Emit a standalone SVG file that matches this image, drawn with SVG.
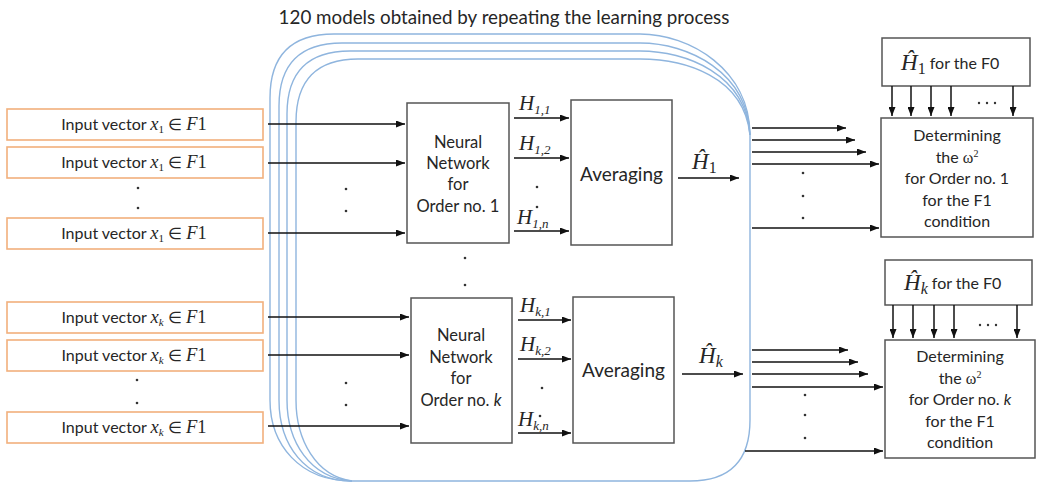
<svg xmlns="http://www.w3.org/2000/svg" width="1037" height="483" viewBox="0 0 1037 483">
  <defs>
    <marker id="arrow" viewBox="0 0 9 7" refX="9" refY="3.5" markerWidth="9" markerHeight="7" markerUnits="userSpaceOnUse" orient="auto">
      <path d="M0,0 L9,3.5 L0,7 z" fill="#111"/>
    </marker>
    <style>
      .bg { fill: #ffffff; }
      .stack { fill: none; stroke: #8fb5de; stroke-width: 1.4; }
      .inbox { fill: #ffffff; stroke: #f2b07c; stroke-width: 1.6; }
      .box { fill: #ffffff; stroke: #555555; stroke-width: 1.5; }
      .conn { fill: none; stroke: #111; stroke-width: 1.5; marker-end: url(#arrow); }
      .sans { font-family: Lato, "Open Sans", "Liberation Sans", sans-serif; fill: #262626; }
      .math { font-family: "Liberation Serif", "DejaVu Serif", serif; font-style: italic; fill: #262626; }
      .up { font-family: "Liberation Serif", "DejaVu Serif", serif; fill: #262626; }
      .dot { fill: #333; }
    </style>
  </defs>

  <rect class="bg" x="0" y="0" width="1037" height="483"/>

  <text class="sans" x="504" y="24" font-size="18.8" text-anchor="middle">120 models obtained by repeating the learning process</text>

  <!-- stacked model frames -->
  <g id="model-stack">
    <path class="stack" d="M270,400 L270,98 Q270,34 334,34 L640,34 C690,34 750,70 750,135 L750,420 Q750,481 690,481 L352,481 C300,481 270,445 270,400"/>
    <path class="stack" d="M279,400 L279,106 Q279,43 342,43 L640,43 C688,43 748,72 750,135"/>
    <path class="stack" d="M287,400 L287,114 Q287,51 350,51 L640,51 C686,51 746,74 750,135"/>
    <path class="stack" d="M296,400 L296,122 Q296,59 358,59 L640,59 C684,59 744,76 750,135"/>
    <path class="stack" d="M279,400 C279,445 305,481 352,481"/>
    <path class="stack" d="M287,400 C287,442 310,478 352,481"/>
    <path class="stack" d="M296,400 C296,440 316,476 352,481"/>
  </g>

  <!-- input vectors, order 1 -->
  <g id="in-1a"><rect class="inbox" x="7" y="109" width="256" height="31"/>
    <text class="sans" x="134" y="130" font-size="16" text-anchor="middle">Input vector <tspan class="math" font-size="18.5">x</tspan><tspan class="up" font-size="11" dy="3">1</tspan><tspan dy="-3"> ∈ </tspan><tspan class="math" font-size="18.5">F</tspan><tspan class="up" font-size="18.5">1</tspan></text></g>
  <g id="in-1b"><rect class="inbox" x="7" y="147" width="256" height="31"/>
    <text class="sans" x="134" y="168" font-size="16" text-anchor="middle">Input vector <tspan class="math" font-size="18.5">x</tspan><tspan class="up" font-size="11" dy="3">1</tspan><tspan dy="-3"> ∈ </tspan><tspan class="math" font-size="18.5">F</tspan><tspan class="up" font-size="18.5">1</tspan></text></g>
  <g id="in-1n"><rect class="inbox" x="7" y="218" width="256" height="31"/>
    <text class="sans" x="134" y="239" font-size="16" text-anchor="middle">Input vector <tspan class="math" font-size="18.5">x</tspan><tspan class="up" font-size="11" dy="3">1</tspan><tspan dy="-3"> ∈ </tspan><tspan class="math" font-size="18.5">F</tspan><tspan class="up" font-size="18.5">1</tspan></text></g>

  <!-- input vectors, order k -->
  <g id="in-ka"><rect class="inbox" x="7" y="302" width="256" height="31"/>
    <text class="sans" x="134" y="323" font-size="16" text-anchor="middle">Input vector <tspan class="math" font-size="18.5">x</tspan><tspan class="math" font-size="11" dy="3">k</tspan><tspan dy="-3"> ∈ </tspan><tspan class="math" font-size="18.5">F</tspan><tspan class="up" font-size="18.5">1</tspan></text></g>
  <g id="in-kb"><rect class="inbox" x="7" y="340" width="256" height="31"/>
    <text class="sans" x="134" y="361" font-size="16" text-anchor="middle">Input vector <tspan class="math" font-size="18.5">x</tspan><tspan class="math" font-size="11" dy="3">k</tspan><tspan dy="-3"> ∈ </tspan><tspan class="math" font-size="18.5">F</tspan><tspan class="up" font-size="18.5">1</tspan></text></g>
  <g id="in-kn"><rect class="inbox" x="7" y="412" width="256" height="31"/>
    <text class="sans" x="134" y="433" font-size="16" text-anchor="middle">Input vector <tspan class="math" font-size="18.5">x</tspan><tspan class="math" font-size="11" dy="3">k</tspan><tspan dy="-3"> ∈ </tspan><tspan class="math" font-size="18.5">F</tspan><tspan class="up" font-size="18.5">1</tspan></text></g>

  <!-- neural networks -->
  <g id="nn-1"><rect class="box" x="407" y="103" width="102" height="140"/>
    <text class="sans" font-size="16.5" text-anchor="middle"><tspan x="458" y="148">Neural</tspan><tspan x="458" y="169">Network</tspan><tspan x="458" y="190">for</tspan><tspan x="458" y="212">Order no. 1</tspan></text></g>
  <g id="nn-k"><rect class="box" x="411" y="298" width="101" height="145"/>
    <text class="sans" font-size="16.5" text-anchor="middle"><tspan x="461" y="341">Neural</tspan><tspan x="461" y="363">Network</tspan><tspan x="461" y="384">for</tspan><tspan x="461" y="406">Order no. <tspan font-style="italic">k</tspan></tspan></text></g>

  <!-- averaging -->
  <g id="avg-1"><rect class="box" x="571" y="100" width="101" height="145"/>
    <text class="sans" x="621.5" y="181" font-size="19" text-anchor="middle">Averaging</text></g>
  <g id="avg-k"><rect class="box" x="573" y="297" width="101" height="146"/>
    <text class="sans" x="623.5" y="377" font-size="19" text-anchor="middle">Averaging</text></g>

  <!-- F0 reference boxes -->
  <g id="ref-1"><rect class="box" x="882" y="38" width="148" height="48"/>
    <text x="901" y="70"><tspan class="math" font-size="23">Ĥ</tspan><tspan class="up" font-size="16" dy="4">1</tspan><tspan class="sans" font-size="16" dy="-5"> for the F0</tspan></text></g>
  <g id="ref-k"><rect class="box" x="885" y="260" width="147" height="45"/>
    <text x="904" y="290"><tspan class="math" font-size="23">Ĥ</tspan><tspan class="math" font-size="16" dy="4">k</tspan><tspan class="sans" font-size="16" dy="-5"> for the F0</tspan></text></g>

  <!-- omega determination -->
  <g id="omega-1"><rect class="box" x="881" y="118" width="152" height="119"/>
    <text class="sans" font-size="16" text-anchor="middle"><tspan x="957" y="141">Determining</tspan><tspan x="957" y="163">the <tspan class="up" font-size="16">ω</tspan><tspan class="up" font-size="10" dy="-6">2</tspan></tspan><tspan x="957" y="184">for Order no. 1</tspan><tspan x="957" y="206">for the F1</tspan><tspan x="957" y="227">condition</tspan></text></g>
  <g id="omega-k"><rect class="box" x="885" y="340" width="150" height="118"/>
    <text class="sans" font-size="16" text-anchor="middle"><tspan x="960" y="362">Determining</tspan><tspan x="960" y="384">the <tspan class="up" font-size="16">ω</tspan><tspan class="up" font-size="10" dy="-6">2</tspan></tspan><tspan x="960" y="405">for Order no. <tspan font-style="italic">k</tspan></tspan><tspan x="960" y="427">for the F1</tspan><tspan x="960" y="448">condition</tspan></text></g>

  <!-- labels on outputs -->
  <g id="labels">
    <text x="519" y="110"><tspan class="math" font-size="21">H</tspan><tspan class="math" font-size="13" dy="4">1,1</tspan></text>
    <text x="519" y="150"><tspan class="math" font-size="21">H</tspan><tspan class="math" font-size="13" dy="4">1,2</tspan></text>
    <text x="517" y="224"><tspan class="math" font-size="21">H</tspan><tspan class="math" font-size="13" dy="4">1,n</tspan></text>
    <text x="520" y="312"><tspan class="math" font-size="21">H</tspan><tspan class="math" font-size="13" dy="4">k,1</tspan></text>
    <text x="520" y="351"><tspan class="math" font-size="21">H</tspan><tspan class="math" font-size="13" dy="4">k,2</tspan></text>
    <text x="518" y="426"><tspan class="math" font-size="21">H</tspan><tspan class="math" font-size="13" dy="4">k,n</tspan></text>
    <text x="692" y="169"><tspan class="math" font-size="23">Ĥ</tspan><tspan class="up" font-size="16" dy="4">1</tspan></text>
    <text x="699" y="363"><tspan class="math" font-size="23">Ĥ</tspan><tspan class="math" font-size="16" dy="4">k</tspan></text>
  </g>

  <!-- ellipsis dots -->
  <g id="dots">
    <circle class="dot" cx="138" cy="188" r="1.3"/><circle class="dot" cx="138" cy="208" r="1.3"/>
    <circle class="dot" cx="137" cy="380" r="1.3"/><circle class="dot" cx="137" cy="403" r="1.3"/>
    <circle class="dot" cx="346" cy="189" r="1.3"/><circle class="dot" cx="346" cy="211" r="1.3"/>
    <circle class="dot" cx="346" cy="383" r="1.3"/><circle class="dot" cx="346" cy="405" r="1.3"/>
    <circle class="dot" cx="465" cy="258" r="1.3"/><circle class="dot" cx="465" cy="285" r="1.3"/>
    <circle class="dot" cx="537" cy="187" r="1.3"/><circle class="dot" cx="537" cy="207" r="1.3"/>
    <circle class="dot" cx="542" cy="388" r="1.3"/><circle class="dot" cx="540" cy="416" r="1.3"/>
    <circle class="dot" cx="803" cy="173" r="1.3"/><circle class="dot" cx="803" cy="196" r="1.3"/><circle class="dot" cx="803" cy="218" r="1.3"/>
    <circle class="dot" cx="805" cy="395" r="1.3"/><circle class="dot" cx="805" cy="415" r="1.3"/><circle class="dot" cx="805" cy="438" r="1.3"/>
    <circle class="dot" cx="979" cy="103" r="1.2"/><circle class="dot" cx="987" cy="103" r="1.2"/><circle class="dot" cx="995" cy="103" r="1.2"/>
    <circle class="dot" cx="980" cy="325" r="1.2"/><circle class="dot" cx="988" cy="325" r="1.2"/><circle class="dot" cx="996" cy="325" r="1.2"/>
  </g>

  <!-- connectors -->
  <g id="connectors">
    <line class="conn" x1="268" y1="124" x2="405" y2="124"/>
    <line class="conn" x1="268" y1="163" x2="405" y2="163"/>
    <line class="conn" x1="268" y1="233" x2="405" y2="233"/>
    <line class="conn" x1="268" y1="317" x2="409" y2="317"/>
    <line class="conn" x1="268" y1="355" x2="409" y2="355"/>
    <line class="conn" x1="268" y1="426" x2="409" y2="426"/>

    <line class="conn" x1="514" y1="118" x2="569" y2="118"/>
    <line class="conn" x1="514" y1="158" x2="569" y2="158"/>
    <line class="conn" x1="514" y1="231" x2="569" y2="231"/>
    <line class="conn" x1="518" y1="320" x2="571" y2="320"/>
    <line class="conn" x1="518" y1="359" x2="571" y2="359"/>
    <line class="conn" x1="518" y1="433" x2="571" y2="433"/>

    <line class="conn" x1="678" y1="178" x2="739" y2="178"/>
    <line class="conn" x1="682" y1="374" x2="743" y2="374"/>

    <line class="conn" x1="752" y1="128" x2="846" y2="128"/>
    <line class="conn" x1="752" y1="140" x2="855" y2="140"/>
    <line class="conn" x1="752" y1="152" x2="866" y2="152"/>
    <line class="conn" x1="752" y1="164" x2="879" y2="164"/>
    <line class="conn" x1="752" y1="228" x2="879" y2="228"/>

    <line class="conn" x1="752" y1="350" x2="848" y2="350"/>
    <line class="conn" x1="752" y1="362" x2="858" y2="362"/>
    <line class="conn" x1="752" y1="374" x2="868" y2="374"/>
    <line class="conn" x1="752" y1="387" x2="883" y2="387"/>
    <line class="conn" x1="745" y1="451" x2="883" y2="451"/>

    <line class="conn" x1="892" y1="86" x2="892" y2="116"/>
    <line class="conn" x1="911" y1="86" x2="911" y2="116"/>
    <line class="conn" x1="931" y1="86" x2="931" y2="116"/>
    <line class="conn" x1="951" y1="86" x2="951" y2="116"/>
    <line class="conn" x1="1013" y1="86" x2="1013" y2="116"/>

    <line class="conn" x1="893" y1="305" x2="893" y2="338"/>
    <line class="conn" x1="913" y1="305" x2="913" y2="338"/>
    <line class="conn" x1="934" y1="305" x2="934" y2="338"/>
    <line class="conn" x1="954" y1="305" x2="954" y2="338"/>
    <line class="conn" x1="1017" y1="305" x2="1017" y2="338"/>
  </g>
</svg>
